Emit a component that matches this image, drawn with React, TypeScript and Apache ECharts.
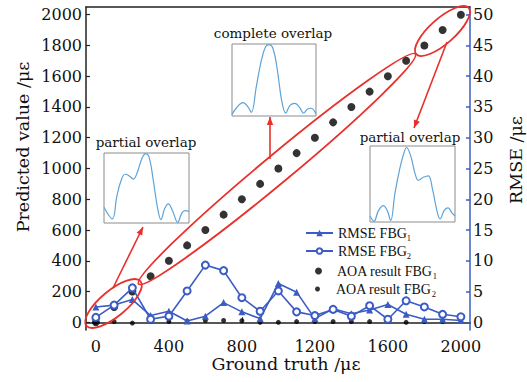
import React, { useEffect, useRef } from "react";
import * as echarts from "echarts";

// ---- data ----
const groundTruth = [0, 100, 200, 300, 400, 500, 600, 700, 800, 900, 1000, 1100, 1200, 1300, 1400, 1500, 1600, 1700, 1800, 1900, 2000];
const aoaFbg1 = [0, 100, 200, 300, 400, 500, 600, 700, 800, 900, 1000, 1100, 1200, 1300, 1400, 1500, 1600, 1700, 1800, 1900, 2000];
const aoaFbg2 = [0, 5, -5, 5, 5, 8, 12, 12, 10, 0, 0, 5, 5, 5, 5, 5, 5, 0, 5, 5, 5];
const rmseFbg1 = [2.5, 2.8, 3.7, 1.1, 1.8, 0.2, 1.0, 3.2, 1.7, 0.6, 6.3, 4.9, 0.6, 2.2, 1.4, 2.0, 2.9, 1.3, 0.5, 0.5, 0.3];
const rmseFbg2 = [0.8, 2.8, 5.6, 0.5, 1.0, 5.1, 9.3, 8.4, 4.0, 1.8, 5.1, 1.7, 1.1, 2.1, 1.0, 2.7, 0.5, 3.5, 2.5, 1.3, 0.9];

const xTicks = [0, 400, 800, 1200, 1600, 2000];
const yLeftTicks = [0, 200, 400, 600, 800, 1000, 1200, 1400, 1600, 1800, 2000];
const yRightTicks = [0, 5, 10, 15, 20, 25, 30, 35, 40, 45, 50];

// inset spectra (normalised 0-100)
const inset1X = [0, 9.8, 15, 19.6, 24.7, 29.4, 34.5, 39.2, 44.3, 49, 53.3, 58, 62.7, 67, 71.4, 75.7, 80.8, 86.7, 91.4, 95.3, 100];
const inset1Y = [22, 5, 37, 59, 70, 68, 63, 73, 92, 100, 94, 61, 23, 4, 20, 27, 16, 0, 13, 17, 16];
const inset2X = [0, 5, 13, 19, 23, 29, 35, 40, 44, 49, 54, 59, 64, 69, 75, 81, 85, 90, 94, 100];
const inset2Y = [1, 10, 18, 12, 4, 41, 78, 97, 100, 94, 64, 22, 3, 14, 17, 10, 3, 9, 10, 2];
const inset3X = [0, 4.7, 9.8, 15.7, 20.4, 24.3, 29.4, 35.3, 40, 43, 47.8, 53, 56.9, 62.7, 68.6, 73.7, 78.4, 82.4, 87.5, 92, 96, 100];
const inset3Y = [7, 0, 14, 21, 14, 1, 38, 72, 92, 99, 88, 64, 55, 59, 61, 42, 16, 3, 15, 18, 12, 7];

const legendNames: Record<string, string> = {
  "RMSE FBG1": "{a|RMSE FBG}{s|1}",
  "RMSE FBG2": "{a|RMSE FBG}{s|2}",
  "AOA result FBG1": "{a|AOA result FBG}{s|1}",
  "AOA result FBG2": "{a|AOA result FBG}{s|2}",
};

const BLUE = "#3b5cc4";
const RED = "#e8302c";
const INSET = "#5ea3d8";
const TICK_FONT = "DejaVu Serif";

function arrowHead(x1: number, y1: number, x2: number, y2: number, len = 8, w = 3.2) {
  const dx = x2 - x1;
  const dy = y2 - y1;
  const l = Math.sqrt(dx * dx + dy * dy);
  const ux = dx / l;
  const uy = dy / l;
  const bx = x2 - ux * len;
  const by = y2 - uy * len;
  return [
    [x2, y2],
    [bx - uy * w, by + ux * w],
    [bx + uy * w, by - ux * w],
  ];
}

function arrow(x1: number, y1: number, x2: number, y2: number) {
  return [
    { type: "line", shape: { x1, y1, x2, y2 }, style: { stroke: RED, lineWidth: 1.6 }, z: 100 },
    { type: "polygon", shape: { points: arrowHead(x1, y1, x2, y2) }, style: { fill: RED }, z: 100 },
  ];
}

function ellipse(cx: number, cy: number, rx: number, ry: number, deg: number) {
  return {
    type: "ellipse",
    x: cx,
    y: cy,
    rotation: (deg * Math.PI) / 180,
    shape: { cx: 0, cy: 0, rx, ry },
    style: { fill: "none", stroke: RED, lineWidth: 1.8 },
    z: 100,
  };
}

function label(text: string, x: number, y: number, size: number, rot = 0) {
  return {
    type: "text",
    x,
    y,
    rotation: rot,
    style: {
      text,
      fontFamily: TICK_FONT,
      fontSize: size,
      fill: "#111",
      align: "center",
      verticalAlign: "middle",
      textAlign: "center",
      textVerticalAlign: "middle",
    },
    z: 100,
  };
}

function legendItem(name: string, left: number, top: number, itemHeight: number) {
  return {
    data: [name],
    left,
    top,
    padding: 0,
    orient: "vertical",
    itemWidth: 27,
    itemHeight,
    itemGap: 0,
    formatter: (n: string) => legendNames[n] || n,
    textStyle: {
      rich: {
        a: { fontFamily: "Liberation Serif", fontSize: 14, color: "#111", lineHeight: 18 },
        s: { fontFamily: "Liberation Serif", fontSize: 8.5, color: "#111", lineHeight: 19, verticalAlign: "bottom" },
      },
    },
  };
}

function insetGrid(left: number, top: number, width: number, height: number) {
  return { left, top, width, height, show: true, borderColor: "#8c8c8c", borderWidth: 1, backgroundColor: "#fff" };
}

export default function App() {
  const ref = useRef<HTMLDivElement>(null);
  useEffect(() => {
    document.body.style.margin = "0";
    if (!ref.current) return;
    const chart = echarts.init(ref.current, undefined, { renderer: "svg" });
    const axisLabelStyle = { fontFamily: TICK_FONT, fontSize: 16, color: "#111", formatter: (v: number) => String(v) };
    const option: any = {
      animation: false,
      backgroundColor: "#fff",
      grid: [
        { left: 86, right: 57, top: 7, bottom: 52 },
        insetGrid(104, 153, 85, 70),
        insetGrid(232, 44, 84, 72),
        insetGrid(370, 146, 85, 76),
      ],
      xAxis: [
        {
          gridIndex: 0,
          type: "value",
          min: -54,
          max: 2050,
          position: "bottom",
          axisLine: { show: true, lineStyle: { color: "#222", width: 1.5 } },
          axisTick: { show: true, inside: true, length: 5, customValues: xTicks, lineStyle: { color: "#222", width: 1.2 } },
          axisLabel: { show: true, customValues: xTicks, margin: 8, ...axisLabelStyle },
          splitLine: { show: false },
        },
        {
          gridIndex: 0,
          type: "value",
          min: 0,
          max: 1,
          position: "top",
          axisLine: { show: true, onZero: false, lineStyle: { color: "#222", width: 1.5 } },
          axisTick: { show: false },
          axisLabel: { show: false },
          splitLine: { show: false },
        },
        { gridIndex: 1, type: "value", min: 0, max: 100, show: false },
        { gridIndex: 2, type: "value", min: 0, max: 100, show: false },
        { gridIndex: 3, type: "value", min: 0, max: 100, show: false },
      ],
      yAxis: [
        {
          gridIndex: 0,
          type: "value",
          min: -50,
          max: 2050,
          position: "left",
          axisLine: { show: true, onZero: false, lineStyle: { color: "#222", width: 1.5 } },
          axisTick: { show: true, inside: true, length: 4, customValues: yLeftTicks, lineStyle: { color: "#222", width: 1.2 } },
          axisLabel: { show: true, customValues: yLeftTicks, margin: 4, ...axisLabelStyle },
          splitLine: { show: false },
        },
        {
          gridIndex: 0,
          type: "value",
          min: -1.25,
          max: 51.25,
          position: "right",
          axisLine: { show: true, onZero: false, lineStyle: { color: BLUE, width: 1.5 } },
          axisTick: { show: true, inside: true, length: 4, customValues: yRightTicks, lineStyle: { color: BLUE, width: 1.5 } },
          axisLabel: { show: true, customValues: yRightTicks, margin: 3, ...axisLabelStyle },
          splitLine: { show: false },
        },
        { gridIndex: 1, type: "value", min: -1, max: 101, show: false },
        { gridIndex: 2, type: "value", min: -1, max: 101, show: false },
        { gridIndex: 3, type: "value", min: -1, max: 101, show: false },
      ],
      legend: [
        legendItem("RMSE FBG1", 305, 226, 8),
        legendItem("RMSE FBG2", 305, 244, 7),
        legendItem("AOA result FBG1", 315, 264, 7),
        legendItem("AOA result FBG2", 315, 282, 5),
      ],
      series: [
        {
          name: "AOA result FBG1",
          type: "scatter",
          xAxisIndex: 0,
          yAxisIndex: 0,
          symbol: "circle",
          symbolSize: 8,
          itemStyle: { color: "#000" },
          data: groundTruth.map((g, i) => [g, aoaFbg1[i]]),
          z: 3,
        },
        {
          name: "AOA result FBG2",
          type: "scatter",
          xAxisIndex: 0,
          yAxisIndex: 0,
          symbol: "circle",
          symbolSize: 5,
          itemStyle: { color: "#000" },
          data: groundTruth.map((g, i) => [g, aoaFbg2[i]]),
          z: 3,
        },
        {
          name: "RMSE FBG1",
          type: "line",
          xAxisIndex: 0,
          yAxisIndex: 1,
          symbol: "triangle",
          symbolSize: 7,
          lineStyle: { color: BLUE, width: 1.6 },
          itemStyle: { color: BLUE },
          data: groundTruth.map((g, i) => [g, rmseFbg1[i]]),
          z: 4,
        },
        {
          name: "RMSE FBG2",
          type: "line",
          xAxisIndex: 0,
          yAxisIndex: 1,
          symbol: "emptyCircle",
          symbolSize: 7,
          lineStyle: { color: BLUE, width: 1.6 },
          itemStyle: { color: BLUE, borderColor: BLUE, borderWidth: 1.4 },
          data: groundTruth.map((g, i) => [g, rmseFbg2[i]]),
          z: 5,
        },
        {
          name: "inset1",
          type: "line",
          xAxisIndex: 2,
          yAxisIndex: 2,
          smooth: 0.4,
          showSymbol: false,
          lineStyle: { color: INSET, width: 1.2 },
          data: inset1X.map((x, i) => [x, inset1Y[i]]),
        },
        {
          name: "inset2",
          type: "line",
          xAxisIndex: 3,
          yAxisIndex: 3,
          smooth: 0.4,
          showSymbol: false,
          lineStyle: { color: INSET, width: 1.2 },
          data: inset2X.map((x, i) => [x, inset2Y[i]]),
        },
        {
          name: "inset3",
          type: "line",
          xAxisIndex: 4,
          yAxisIndex: 4,
          smooth: 0.4,
          showSymbol: false,
          lineStyle: { color: INSET, width: 1.2 },
          data: inset3X.map((x, i) => [x, inset3Y[i]]),
        },
      ],
      graphic: [
        ellipse(113.5, 303.5, 35, 13, 39.5),
        ellipse(277, 169, 180, 14, 39.7),
        ellipse(442.5, 31, 35, 12.5, 41.5),
        ...arrow(113, 288, 143, 227),
        ...arrow(270, 159, 270, 117),
        ...arrow(447, 42, 414, 128),
        label("partial overlap", 146, 142, 13.5),
        label("complete overlap", 273, 33, 13.5),
        label("partial overlap", 410, 137, 13.5),
        label("Predicted value /\u03bc\u03b5", 23, 147, 17.5, Math.PI / 2),
        label("RMSE /\u03bc\u03b5", 516, 160, 17.5, Math.PI / 2),
        label("Ground truth /\u03bc\u03b5", 286, 364, 17.5),
      ],
    };
    chart.setOption(option);
    return () => chart.dispose();
  }, []);
  return <div ref={ref} style={{ width: 527, height: 382 }} />;
}
